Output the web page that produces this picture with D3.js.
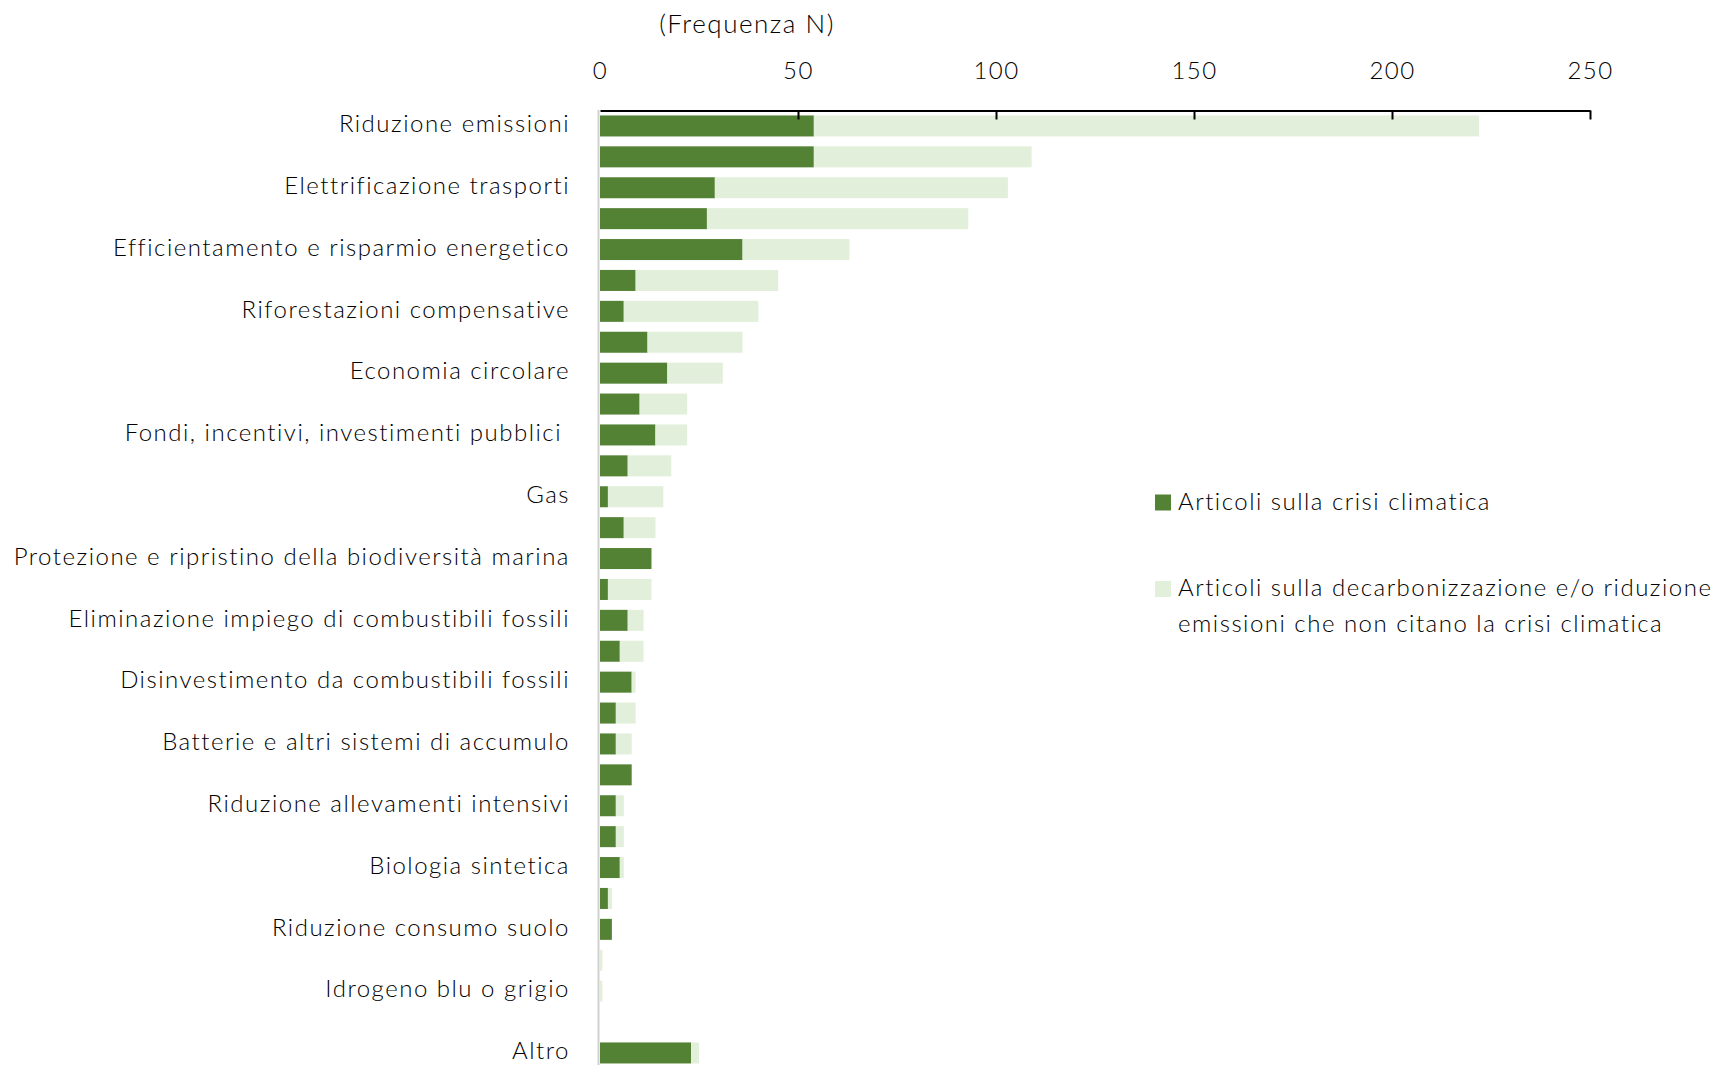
<!DOCTYPE html>
<html>
<head>
<meta charset="utf-8">
<script src="https://cdn.jsdelivr.net/npm/d3@7"></script>
<style>
  body { margin: 0; background: #fff; }
  text { font-family: Lato, "Open Sans", sans-serif; font-weight: 300; fill: #000; letter-spacing: 1.5px; }
</style>
</head>
<body>
<script>
// categories (only every other one is labelled in the original chart)
const categories = [
  'Riduzione emissioni', '',
  'Elettrificazione trasporti', '',
  'Efficientamento e risparmio energetico', '',
  'Riforestazioni compensative', '',
  'Economia circolare', '',
  'Fondi, incentivi, investimenti pubblici ', '',
  'Gas', '',
  'Protezione e ripristino della biodiversità marina', '',
  'Eliminazione impiego di combustibili fossili', '',
  'Disinvestimento da combustibili fossili', '',
  'Batterie e altri sistemi di accumulo', '',
  'Riduzione allevamenti intensivi', '',
  'Biologia sintetica', '',
  'Riduzione consumo suolo', '',
  'Idrogeno blu o grigio', '',
  'Altro'
];
const climateArticles = [54, 54, 29, 27, 36, 9, 6, 12, 17, 10, 14, 7, 2, 6, 13, 2,
  7, 5, 8, 4, 4, 8, 4, 4, 5, 2, 3, 0, 0, 0, 23];
const otherArticles = [168, 55, 74, 66, 27, 36, 34, 24, 14, 12, 8, 11, 14, 8, 0, 11,
  4, 6, 1, 5, 4, 0, 2, 2, 1, 1, 0, 0.6, 0.6, 0, 2];
const xTicks = [0, 50, 100, 150, 200, 250];

const W = 1713, H = 1065;
const colors = ['#548235', '#e2efda'];
const fontSize = 24;

const svg = d3.select('body')
  .append('svg')
  .attr('width', W)
  .attr('height', H);

const rows = categories.map((c, i) => ({ idx: i, climate: climateArticles[i], other: otherArticles[i] }));
const stacked = d3.stack().keys(['climate', 'other'])(rows);

const x = d3.scaleLinear()
  .domain([0, 250])
  .range([600, 1590]);

const y = d3.scaleBand()
  .domain(d3.range(categories.length))
  .range([110.5, 110.5 + categories.length * 30.9])
  .paddingInner(0.32)
  .paddingOuter(0.16);

// left axis line (light grey)
svg.append('line')
  .attr('x1', 598.5).attr('x2', 598.5)
  .attr('y1', 110).attr('y2', H)
  .attr('stroke', '#d0d0d0')
  .attr('stroke-width', 2);

// bars
svg.selectAll('.series')
  .data(stacked)
  .enter()
  .append('g')
  .attr('class', 'series')
  .attr('fill', (d, i) => colors[i])
  .selectAll('rect')
  .data((d) => d)
  .enter()
  .append('rect')
  .attr('x', (d) => x(d[0]))
  .attr('y', (d) => y(d.data.idx))
  .attr('width', (d) => Math.max(0, x(d[1]) - x(d[0])))
  .attr('height', y.bandwidth());

// top axis
const xAxis = d3.axisTop(x)
  .tickValues(xTicks)
  .tickSizeInner(-9)
  .tickSizeOuter(0)
  .tickPadding(32);

const gx = svg.append('g')
  .attr('transform', 'translate(0,110.5)')
  .call(xAxis);
gx.select('.domain').attr('stroke', '#000').attr('stroke-width', 2);
gx.selectAll('.tick line').attr('stroke', '#000').attr('stroke-width', 2);
gx.selectAll('.tick').filter((d) => d === 0).select('line').remove();
gx.selectAll('.tick text')
  .style('font-size', fontSize + 'px')
  .attr('fill', '#000');

// category labels
const yAxis = d3.axisLeft(y)
  .tickFormat((i) => categories[i])
  .tickSize(0)
  .tickPadding(0);

const gy = svg.append('g')
  .attr('transform', 'translate(570,-1.5)')
  .call(yAxis);
gy.select('.domain').remove();
gy.selectAll('.tick text')
  .style('font-size', fontSize + 'px')
  .style('white-space', 'pre')
  .attr('fill', '#000');

// axis title
svg.append('text')
  .attr('x', 747)
  .attr('y', 33)
  .attr('text-anchor', 'middle')
  .style('font-size', '26px')
  .text('(Frequenza N)');

// legend
const legendItems = [
  { color: colors[0], lines: ['Articoli sulla crisi climatica'], y: 494.5 },
  { color: colors[1], lines: ['Articoli sulla decarbonizzazione e/o riduzione', 'emissioni che non citano la crisi climatica'], y: 581 }
];

const legend = svg.selectAll('.legend')
  .data(legendItems)
  .enter()
  .append('g')
  .attr('class', 'legend')
  .attr('transform', (d) => `translate(1155, ${d.y})`);

legend.append('rect')
  .attr('width', 16)
  .attr('height', 16)
  .attr('fill', (d) => d.color);

legend.append('text')
  .attr('x', 23)
  .attr('y', 15)
  .style('font-size', fontSize + 'px')
  .selectAll('tspan')
  .data((d) => d.lines)
  .enter()
  .append('tspan')
  .attr('x', 23)
  .attr('dy', (d, i) => (i === 0 ? 0 : 35.5))
  .text((d) => d);
</script>
</body>
</html>
